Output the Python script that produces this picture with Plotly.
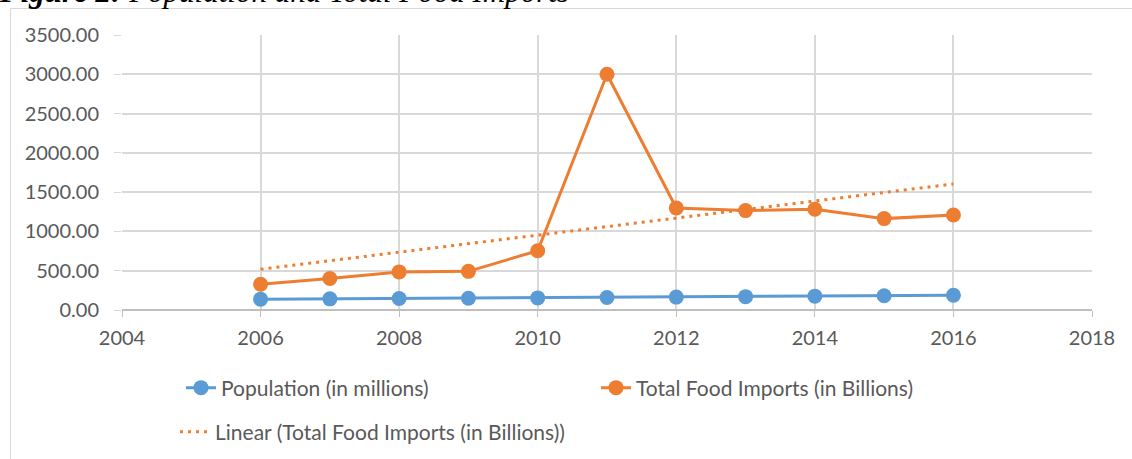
import numpy as np
import plotly.graph_objects as go

years = [2006, 2007, 2008, 2009, 2010, 2011, 2012, 2013, 2014, 2015, 2016]
population = [138, 142, 146, 150, 154, 159, 164, 170, 176, 181, 187]
food_imports = [327, 400, 485, 492, 755, 3000, 1298, 1265, 1282, 1163, 1209]

name_pop = "Population (in millions)"
name_food = "Total Food Imports (in Billions)"
name_trend = "Linear (Total Food Imports (in Billions))"

BLUE = "#5B9BD5"
ORANGE = "#ED7D31"
FONT = "Lato"
TXT = "#595959"

slope, intercept = np.polyfit(years, food_imports, 1)
trend = [slope * x + intercept for x in years]

W, H = 1132, 459
L, R, T, B = 122, 40, 35, 149
pw, ph = W - L - R, H - T - B


def px(x):
    return (x - L) / pw


def py(y):
    return (H - B - y) / ph


fig = go.Figure()
fig.add_trace(go.Scatter(x=years, y=population, name=name_pop, mode="lines+markers",
                         line=dict(color=BLUE, width=3), marker=dict(size=15, color=BLUE),
                         legend="legend"))
fig.add_trace(go.Scatter(x=years, y=food_imports, name=name_food, mode="lines+markers",
                         line=dict(color=ORANGE, width=3), marker=dict(size=15, color=ORANGE),
                         legend="legend2"))
fig.add_trace(go.Scatter(x=[years[0], years[-1]], y=[trend[0], trend[-1]], name=name_trend,
                         mode="lines", line=dict(color=ORANGE, width=3, dash="3px,5px"),
                         legend="legend3"))

leg_common = dict(orientation="h", font=dict(family=FONT, size=21, color=TXT),
                  bgcolor="rgba(0,0,0,0)", yanchor="middle", xanchor="left")

fig.update_layout(
    width=W, height=H,
    margin=dict(l=L, r=R, t=T, b=B, autoexpand=False),
    paper_bgcolor="white", plot_bgcolor="white",
    font=dict(family=FONT, size=20, color=TXT),
    showlegend=True,
    legend=dict(x=px(181), y=py(388), **leg_common),
    legend2=dict(x=px(596), y=py(388), **leg_common),
    legend3=dict(x=px(175), y=py(432), **leg_common),
    xaxis=dict(range=[2004, 2018], dtick=2, tick0=2004, showgrid=True, gridcolor="#D9D9D9",
               gridwidth=1.5, ticks="outside", ticklen=6, tickcolor="#BFBFBF",
               zeroline=False, showline=False, ticklabelstandoff=4,
               tickfont=dict(family=FONT, size=20, color=TXT)),
    yaxis=dict(range=[0, 3500], dtick=500, tickformat=".2f", showgrid=True,
               gridcolor="#D9D9D9", gridwidth=1.5, ticks="outside", ticklen=7,
               tickcolor="#D9D9D9", zeroline=False, showline=False, ticklabelstandoff=11,
               tickfont=dict(family=FONT, size=20, color=TXT)),
    shapes=[
        dict(type="line", xref="paper", yref="paper", x0=0, x1=1, y0=0, y1=0,
             line=dict(color="#BFBFBF", width=2)),
        dict(type="line", xref="paper", yref="paper", x0=px(10.5), x1=px(10.5), y0=py(8.5), y1=py(459),
             line=dict(color="#D9D9D9", width=1)),
        dict(type="line", xref="paper", yref="paper", x0=px(10.5), x1=px(1132), y0=py(8.5), y1=py(8.5),
             line=dict(color="#D9D9D9", width=1)),
    ],
    annotations=[
        dict(xref="paper", yref="paper", x=px(-3), y=py(11), xanchor="left", yanchor="bottom",
             text="<b><i>Figure 2:</i></b><i> Population and Total Food Imports</i>",
             showarrow=False, font=dict(family="Liberation Serif", size=31, color="black")),
    ],
)

fig.write_html("out.html", config={"displayModeBar": False},
               post_script="document.body.style.margin='0';")
